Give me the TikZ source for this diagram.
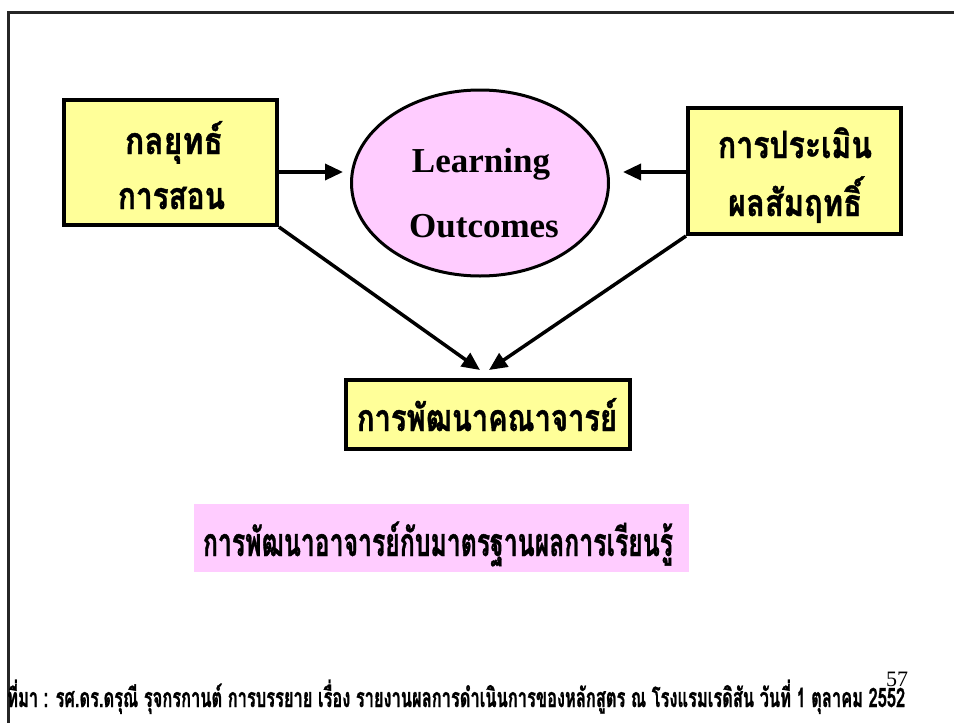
\documentclass[tikz,border=0pt]{standalone}
\usepackage{fontspec}
\usepackage{graphicx}
\setmainfont{Liberation Serif}
\newfontfamily\thaifont[Script=Thai,BoldFeatures={FakeBold=1.2}]{Loma}
\usetikzlibrary{arrows.meta,shapes.geometric}
\definecolor{boxyellow}{HTML}{FFFF99}
\definecolor{pinkfill}{HTML}{FFCCFF}
\newsavebox\thtbox
\newsavebox\threfbox
% #1 x-height target (pt), #2 width target (pt), #3 text
\newcommand\thaifit[3]{%
  \sbox\threfbox{\thaifont\bfseries\fontsize{10}{12}\selectfont กาน}%
  \sbox\thtbox{\thaifont\bfseries\fontsize{10}{12}\selectfont #3}%
  \pgfmathsetmacro\thsy{#1/(\the\ht\threfbox)}%
  \pgfmathsetmacro\thsx{#2/(\the\wd\thtbox)}%
  \scalebox{\thsx}[\thsy]{\usebox\thtbox}}
\begin{document}
\begin{tikzpicture}[x=1pt,y=-1pt,
  ybox/.style={draw=black,line width=4pt,fill=boxyellow,inner sep=0pt},
  thaitxt/.style={anchor=base,inner sep=0pt},
  engtxt/.style={anchor=base,inner sep=0pt,font=\bfseries\fontsize{35}{40}\selectfont},
  conn/.style={line width=3.5pt,-{Triangle[length=18pt,width=16pt]}}]
\useasboundingbox (0,0) rectangle (954,723);
\fill[white] (0,0) rectangle (954,723);
% frame
\coordinate (fa) at (8,723);
\coordinate (fb) at (8,12);
\coordinate (fc) at (954,12);
\draw[line width=3pt,black!85] (fa) -- (fb) -- (fc);
% boxes
\node[ybox,minimum width=213pt,minimum height=125pt] (L) at (170.5,162.5) {};
\node[ybox,minimum width=213pt,minimum height=126pt] (R) at (794.5,171) {};
\node[ybox,minimum width=284pt,minimum height=69pt] (B) at (488,414.5) {};
\node[draw=black,line width=3pt,fill=pinkfill,ellipse,inner sep=0pt,minimum width=257pt,minimum height=186pt] (E) at (480,183) {};
% texts
\node[thaitxt] (L1) at (174,154) {\thaifit{21}{98}{กลยุทธ์}};
\node[thaitxt] (L2) at (171.5,209) {\thaifit{21}{107}{การสอน}};
\node[thaitxt] (R1) at (795,158) {\thaifit{21}{154}{การประเมิน}};
\node[thaitxt] (R2) at (795,216) {\thaifit{21}{134}{ผลสัมฤทธิ์}};
\node[engtxt] (E1) at (481,172) {Learning};
\node[engtxt] (E2) at (484,237) {Outcomes};
\node[thaitxt] (B1) at (487,431) {\thaifit{21}{260}{การพัฒนาคณาจารย์}};
% title band
\node[fill=pinkfill,inner sep=0pt,minimum width=495pt,minimum height=68pt] (T) at (441.5,538) {};
\node[thaitxt] (T1) at (438,556) {\thaifit{22}{470}{การพัฒนาอาจารย์กับมาตรฐานผลการเรียนรู้}};
% connectors
\coordinate (tL) at (343,172);
\coordinate (tR) at (623,172);
\coordinate (sL) at (279,172);
\coordinate (sR) at (686,172);
\coordinate (bL) at (480,370);
\coordinate (bR) at (489,370);
\draw[conn] (sL) -- (tL);
\draw[conn] (sR) -- (tR);
\draw[conn] (L.south east) -- (bL);
\draw[conn] (R.south west) -- (bR);
% footnote
\node[anchor=base west,inner sep=0pt] (F) at (7,707) {\thaifit{15}{898}{ที่มา : รศ.ดร.ดรุณี รุจกรกานต์ การบรรยาย เรื่อง รายงานผลการดำเนินการของหลักสูตร ณ โรงแรมเรดิสัน วันที่ 1 ตุลาคม 2552}};
\node[anchor=base,inner sep=0pt,font=\fontsize{22}{26}\selectfont] (P) at (897,686) {57};
\end{tikzpicture}
\end{document}
